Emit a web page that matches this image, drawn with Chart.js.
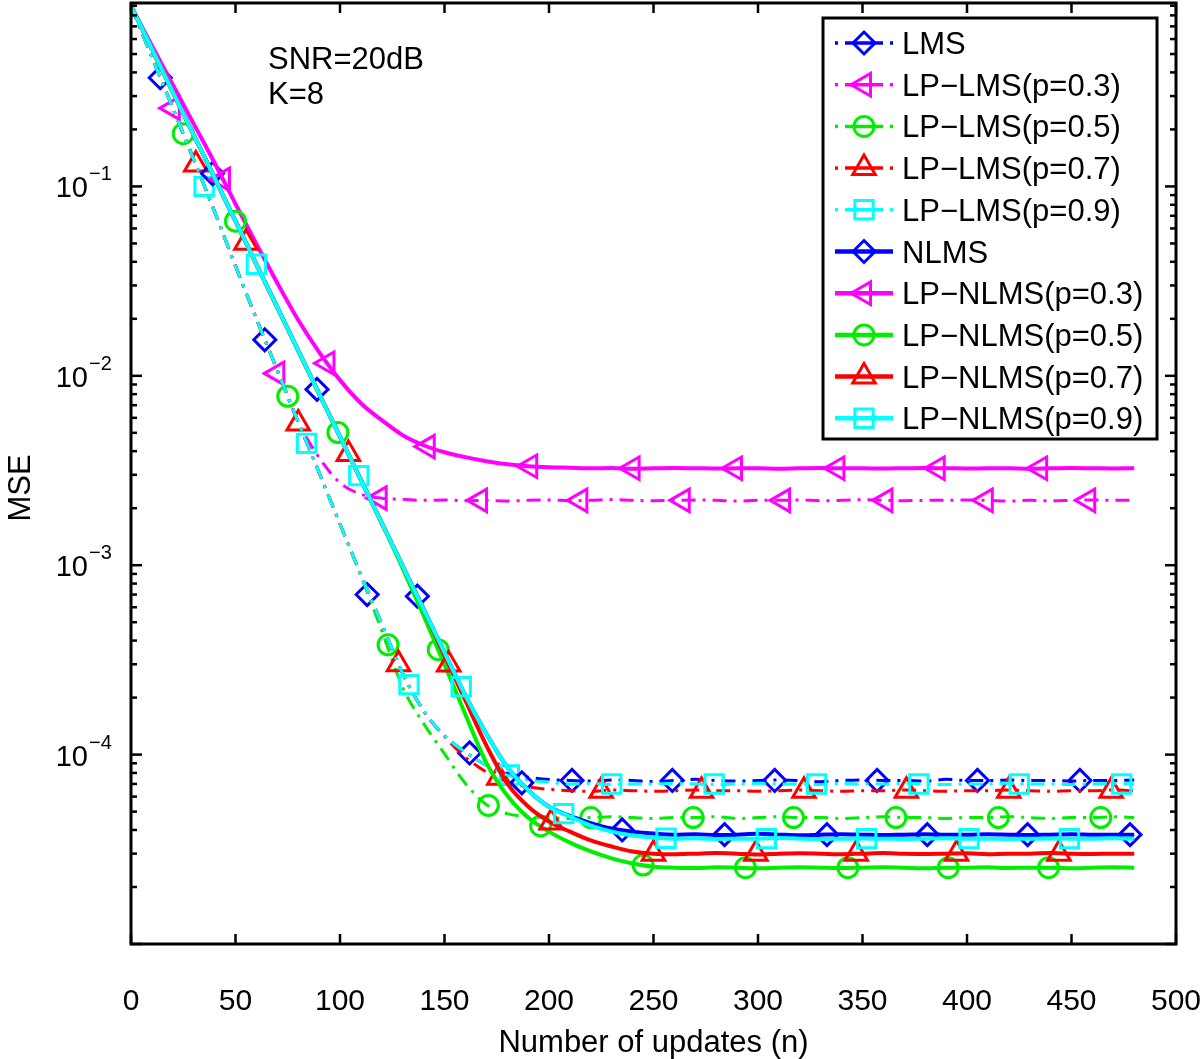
<!DOCTYPE html>
<html>
<head>
<meta charset="utf-8">
<script src="https://cdn.jsdelivr.net/npm/chart.js@4.4.0/dist/chart.umd.min.js"></script>
<style>
html,body{margin:0;padding:0;background:#fff;}
#wrap{width:1200px;height:1059px;}
</style>
</head>
<body>
<div id="wrap"><canvas id="c" width="1200" height="1059"></canvas></div>
<script>
// ---------------- data ----------------
const updates = [0,10,20,30,40,50,60,70,80,90,100,110,120,130,140,150,160,170,180,190,200,210,220,230,240,250,260,270,280,290,300,310,320,330,340,350,360,370,380,390,400,410,420,430,440,450,460,470,480];
const xTickValues = [0,50,100,150,200,250,300,350,400,450,500];
const yTickExponents = [-1,-2,-3,-4];

const seriesNames = ['LMS','LP\u2212LMS(p=0.3)','LP\u2212LMS(p=0.5)','LP\u2212LMS(p=0.7)','LP\u2212LMS(p=0.9)',
  'NLMS','LP\u2212NLMS(p=0.3)','LP\u2212NLMS(p=0.5)','LP\u2212NLMS(p=0.7)','LP\u2212NLMS(p=0.9)'];

const lmsMSE = [0.90,0.482,0.259,0.139,0.0735,0.038,0.020,0.0107,0.0057,0.00308,0.00165,8.9e-4,4.9e-4,2.68e-4,1.71e-4,1.26e-4,1.03e-4,8.8e-5,7.95e-5,7.6e-5,7.4e-5,
  7.3e-5,7.25e-5,7.35e-5,7.3e-5,7.2e-5,7.3e-5,7.4e-5,7.3e-5,7.25e-5,7.3e-5,
  7.35e-5,7.3e-5,7.2e-5,7.3e-5,7.35e-5,7.3e-5,7.3e-5,7.25e-5,7.4e-5,7.3e-5,
  7.3e-5,7.35e-5,7.3e-5,7.3e-5,7.25e-5,7.3e-5,7.3e-5,7.35e-5];
const lp3LmsMSE = [0.90,0.482,0.259,0.139,0.0735,0.038,0.020,0.0107,0.0057,0.0037,0.00272,0.00237,0.00226,0.00223,0.0022,
  2.21e-3,2.19e-3,2.2e-3,2.18e-3,2.2e-3,2.21e-3,2.19e-3,2.2e-3,2.22e-3,2.2e-3,
  2.19e-3,2.2e-3,2.21e-3,2.2e-3,2.18e-3,2.2e-3,2.2e-3,2.21e-3,2.19e-3,2.2e-3,
  2.22e-3,2.2e-3,2.19e-3,2.2e-3,2.2e-3,2.21e-3,2.2e-3,2.18e-3,2.2e-3,2.19e-3,
  2.2e-3,2.21e-3,2.2e-3,2.2e-3];
const lp5LmsMSE = [0.90,0.482,0.259,0.139,0.0735,0.038,0.020,0.0107,0.0057,0.00308,0.00165,8.8e-4,
  4.5e-4,2.26e-4,1.46e-4,1.01e-4,7.04e-5,5.45e-5,4.88e-5,4.71e-5,4.65e-5,
  4.6e-5,4.65e-5,4.7e-5,4.65e-5,4.6e-5,4.65e-5,4.65e-5,4.7e-5,4.6e-5,4.65e-5,
  4.7e-5,4.65e-5,4.65e-5,4.6e-5,4.65e-5,4.7e-5,4.65e-5,4.65e-5,4.6e-5,4.65e-5,
  4.65e-5,4.7e-5,4.65e-5,4.6e-5,4.65e-5,4.65e-5,4.7e-5,4.65e-5];
const lp7LmsMSE = [0.90,0.482,0.259,0.139,0.0735,0.038,0.020,0.0107,0.0057,0.00308,0.00165,8.9e-4,4.9e-4,
  2.68e-4,1.7e-4,1.25e-4,9.7e-5,8.1e-5,7.2e-5,6.75e-5,6.55e-5,
  6.45e-5,6.4e-5,6.5e-5,6.45e-5,6.4e-5,6.45e-5,6.5e-5,6.45e-5,6.45e-5,6.4e-5,
  6.45e-5,6.5e-5,6.45e-5,6.4e-5,6.45e-5,6.45e-5,6.5e-5,6.45e-5,6.4e-5,6.45e-5,
  6.45e-5,6.5e-5,6.45e-5,6.4e-5,6.45e-5,6.45e-5,6.5e-5,6.45e-5];
const lp9LmsMSE = [0.90,0.482,0.259,0.139,0.0735,0.038,0.020,0.0107,0.0057,0.00308,0.00165,8.9e-4,4.9e-4,2.68e-4,1.71e-4,1.26e-4,1.03e-4,8.8e-5,
  7.8e-5,7.35e-5,7.15e-5,
  7.0e-5,7.05e-5,6.95e-5,7.0e-5,7.0e-5,7.05e-5,7.0e-5,6.95e-5,7.0e-5,7.05e-5,
  7.0e-5,7.0e-5,6.95e-5,7.05e-5,7.0e-5,7.0e-5,7.05e-5,7.0e-5,6.95e-5,7.0e-5,
  7.0e-5,7.05e-5,7.0e-5,7.0e-5,6.95e-5,7.0e-5,7.05e-5,7.0e-5];
const nlmsMSE = [0.90,0.532,0.315,0.187,0.111,0.0655,0.0388,0.023,0.0136,0.00805,0.00477,0.00282,0.00167,9.9e-4,5.86e-4,3.47e-4,2.05e-4,1.29e-4,8.6e-5,6.5e-5,5.3e-5,4.75e-5,4.35e-5,4.07e-5,3.92e-5,3.83e-5,
  3.78e-5,3.8e-5,3.76e-5,3.78e-5,3.82e-5,3.78e-5,3.75e-5,3.78e-5,3.8e-5,3.78e-5,
  3.76e-5,3.78e-5,3.8e-5,3.78e-5,3.77e-5,3.8e-5,3.78e-5,3.76e-5,3.78e-5,3.8e-5,
  3.78e-5,3.77e-5,3.78e-5];
const lp3NlmsMSE = [0.90,0.553,0.344,0.214,0.133,0.0808,0.0497,0.0309,0.0197,0.01334,0.00949,0.00717,0.00583,0.00486,0.0043,0.00395,0.00372,0.00354,0.00341,0.00333,0.00329,
  3.27e-3,3.25e-3,3.26e-3,3.23e-3,3.25e-3,3.26e-3,3.25e-3,3.24e-3,3.25e-3,3.25e-3,
  3.23e-3,3.25e-3,3.26e-3,3.25e-3,3.25e-3,3.24e-3,3.25e-3,3.26e-3,3.25e-3,3.24e-3,
  3.25e-3,3.25e-3,3.23e-3,3.25e-3,3.26e-3,3.25e-3,3.24e-3,3.25e-3];
const lp5NlmsMSE = [0.90,0.532,0.315,0.187,0.111,0.0655,0.0388,0.023,0.0136,0.00805,0.00477,0.00282,0.00167,
  9.63e-4,5.43e-4,2.99e-4,1.63e-4,9.08e-5,6.08e-5,4.65e-5,3.92e-5,3.43e-5,3.08e-5,2.83e-5,2.66e-5,2.56e-5,
  2.53e-5,2.52e-5,2.54e-5,2.53e-5,2.51e-5,2.53e-5,2.54e-5,2.53e-5,2.52e-5,2.53e-5,
  2.54e-5,2.53e-5,2.51e-5,2.53e-5,2.53e-5,2.54e-5,2.52e-5,2.53e-5,2.53e-5,2.51e-5,
  2.53e-5,2.54e-5,2.53e-5];
const lp7NlmsMSE = [0.90,0.532,0.315,0.187,0.111,0.0655,0.0388,0.023,0.0136,0.00805,0.00477,0.00282,0.00167,9.9e-4,5.86e-4,
  3.34e-4,1.93e-4,1.12e-4,7.04e-5,5.32e-5,4.43e-5,3.92e-5,3.52e-5,3.27e-5,3.08e-5,3.0e-5,
  2.98e-5,3.0e-5,3.02e-5,3.0e-5,2.97e-5,3.0e-5,3.01e-5,3.0e-5,2.98e-5,3.0e-5,
  3.02e-5,3.0e-5,2.99e-5,3.0e-5,3.01e-5,2.98e-5,3.0e-5,3.0e-5,3.02e-5,3.0e-5,
  2.99e-5,3.0e-5,3.0e-5];
const lp9NlmsMSE = [0.90,0.532,0.315,0.187,0.111,0.0655,0.0388,0.023,0.0136,0.00805,0.00477,0.00282,0.00167,9.9e-4,5.86e-4,3.47e-4,2.05e-4,1.29e-4,8.6e-5,6.5e-5,
  5.3e-5,4.71e-5,4.22e-5,3.92e-5,3.74e-5,3.65e-5,
  3.6e-5,3.62e-5,3.58e-5,3.6e-5,3.6e-5,3.63e-5,3.6e-5,3.58e-5,3.6e-5,3.61e-5,
  3.6e-5,3.58e-5,3.6e-5,3.62e-5,3.6e-5,3.6e-5,3.58e-5,3.6e-5,3.61e-5,3.6e-5,
  3.6e-5,3.62e-5,3.6e-5];

// marker positions (update index) and values
const lmsMarkN = [14,64,113,162,211,259,308,357,405,454];
const lmsMarkV = [0.375,0.0155,7.0e-4,1.02e-4,7.3e-5,7.3e-5,7.3e-5,7.3e-5,7.3e-5,7.3e-5];
const lp3LmsMarkN = [20,70,119,167,215,264,312,361,409,458];
const lp3LmsMarkV = [0.259,0.0103,2.26e-3,2.2e-3,2.2e-3,2.2e-3,2.2e-3,2.2e-3,2.2e-3,2.2e-3];
const lp5LmsMarkN = [25,75,123,171,220,269,317,366,415,464];
const lp5LmsMarkV = [0.19,0.0078,3.8e-4,5.39e-5,4.65e-5,4.65e-5,4.65e-5,4.65e-5,4.65e-5,4.65e-5];
const lp7LmsMarkN = [31,80,128,176,225,273,322,371,420,469];
const lp7LmsMarkV = [0.1306,0.0056,3.0e-4,7.55e-5,6.45e-5,6.45e-5,6.45e-5,6.45e-5,6.45e-5,6.45e-5];
const lp9LmsMarkN = [35,84,133,181,230,279,328,377,425,474];
const lp9LmsMarkV = [0.1,0.0044,2.34e-4,7.8e-5,7.0e-5,7.0e-5,7.0e-5,7.0e-5,7.0e-5,7.0e-5];
const nlmsMarkN = [39,89,137,187,235,284,333,381,429,478];
const nlmsMarkV = [0.117,0.00848,6.86e-4,7.1e-5,4.0e-5,3.78e-5,3.78e-5,3.78e-5,3.78e-5,3.78e-5];
const lp3NlmsMarkN = [44,94,142,191,240,289,338,386,435];
const lp3NlmsMarkV = [0.109,0.01165,4.23e-3,3.33e-3,3.25e-3,3.25e-3,3.25e-3,3.25e-3,3.25e-3];
const lp5NlmsMarkN = [50,99,147,196,245,294,343,391,439];
const lp5NlmsMarkV = [0.0655,0.00502,3.58e-4,4.2e-5,2.61e-5,2.53e-5,2.53e-5,2.53e-5,2.53e-5];
const lp7NlmsMarkN = [55,104,152,201,250,299,347,395,444];
const lp7NlmsMarkV = [0.0504,0.00386,2.99e-4,4.38e-5,3.0e-5,3.0e-5,3.0e-5,3.0e-5,3.0e-5];
const lp9NlmsMarkN = [60,109,158,207,256,304,352,401,449];
const lp9NlmsMarkV = [0.0388,0.00297,2.28e-4,4.88e-5,3.62e-5,3.6e-5,3.6e-5,3.6e-5,3.6e-5];

const annotationLines = ['SNR=20dB','K=8'];
const xTitle = 'Number of updates (n)';
const yTitle = 'MSE';

// ---------------- styles ----------------
const FONT = "'Liberation Sans', Arial, Helvetica, sans-serif";
const lineSeries = [lmsMSE,lp3LmsMSE,lp5LmsMSE,lp7LmsMSE,lp9LmsMSE,nlmsMSE,lp3NlmsMSE,lp5NlmsMSE,lp7NlmsMSE,lp9NlmsMSE];
const markSeriesN = [lmsMarkN,lp3LmsMarkN,lp5LmsMarkN,lp7LmsMarkN,lp9LmsMarkN,nlmsMarkN,lp3NlmsMarkN,lp5NlmsMarkN,lp7NlmsMarkN,lp9NlmsMarkN];
const markSeriesV = [lmsMarkV,lp3LmsMarkV,lp5LmsMarkV,lp7LmsMarkV,lp9LmsMarkV,nlmsMarkV,lp3NlmsMarkV,lp5NlmsMarkV,lp7NlmsMarkV,lp9NlmsMarkV];
const palette = ['#0000ff','#ff00ff','#00ee00','#ff0000','#00ffff'];
const markerShapes = [
  {shape:'rectRot', rot:0, r:11},
  {shape:'triangle', rot:-90, r:13},
  {shape:'circle', rot:0, r:10},
  {shape:'triangle', rot:0, r:13},
  {shape:'rect', rot:0, r:13}
];
const DASH = [14,7,3,7];

const datasets = [];
for (let i = 0; i < 10; i++) {
  const fam = i % 5;
  const dashed = i < 5;
  const color = palette[fam];
  const m = markerShapes[fam];
  datasets.push({
    type:'line', label: seriesNames[i],
    data: updates.map((n,k)=>({x:n, y:lineSeries[i][k]})),
    borderColor: color, borderWidth: dashed ? 3 : 4,
    borderDash: dashed ? DASH : [],
    pointRadius: 0, fill:false, cubicInterpolationMode:'monotone',
    order: 1000 - 2*i,
    _dashed: dashed, _marker: m
  });
  datasets.push({
    type:'line', label: seriesNames[i] + ' markers',
    data: markSeriesN[i].map((n,k)=>({x:n, y:markSeriesV[i][k]})),
    showLine:false, borderColor: color,
    pointStyle: m.shape, pointRotation: m.rot, pointRadius: m.r,
    pointBorderColor: color, pointBackgroundColor:'rgba(0,0,0,0)', pointBorderWidth: 3,
    order: 1000 - 2*i - 1
  });
}

function drawMarker(ctx, shape, r, rotDeg, x, y) {
  ctx.beginPath();
  const rad = rotDeg * Math.PI / 180;
  if (shape === 'circle') {
    ctx.arc(x, y, r, 0, 2*Math.PI);
  } else if (shape === 'rect') {
    const s = r * Math.SQRT1_2;
    ctx.rect(x-s, y-s, 2*s, 2*s);
  } else if (shape === 'rectRot') {
    ctx.moveTo(x-r, y); ctx.lineTo(x, y-r); ctx.lineTo(x+r, y); ctx.lineTo(x, y+r); ctx.closePath();
  } else if (shape === 'triangle') {
    let a = rad;
    for (let k = 0; k < 3; k++) {
      const px = x + Math.sin(a)*r, py = y - Math.cos(a)*r;
      if (k) ctx.lineTo(px, py); else ctx.moveTo(px, py);
      a += 2*Math.PI/3;
    }
    ctx.closePath();
  }
  ctx.stroke();
}

const decorPlugin = {
  id:'decor',
  afterDraw(chart) {
    const ctx = chart.ctx, a = chart.chartArea;
    const xs = chart.scales.x, ys = chart.scales.y;
    ctx.save();
    ctx.strokeStyle = '#000'; ctx.fillStyle = '#000';
    ctx.lineWidth = 2.5;
    const seg = (x1,y1,x2,y2)=>{ctx.beginPath();ctx.moveTo(x1,y1);ctx.lineTo(x2,y2);ctx.stroke();};
    // x ticks (inside) + labels
    ctx.font = '30px ' + FONT;
    ctx.textAlign = 'center'; ctx.textBaseline = 'alphabetic';
    xTickValues.forEach(v=>{
      const px = xs.getPixelForValue(v);
      seg(px, a.bottom, px, a.bottom-10);
      seg(px, a.top, px, a.top+10);
      ctx.fillText(String(v), px, 1010);
    });
    // y ticks (inside), major + minor
    for (let d = -5; d <= -1; d++) {
      for (let k = 1; k <= 9; k++) {
        const v = k * Math.pow(10, d);
        if (v > ys.max || v < ys.min) continue;
        const py = ys.getPixelForValue(v);
        const L = k === 1 ? 11 : 6;
        seg(a.left, py, a.left+L, py);
        seg(a.right, py, a.right-L, py);
      }
    }
    // frame
    ctx.lineWidth = 3;
    ctx.strokeRect(a.left, a.top, a.right-a.left, a.bottom-a.top);

    // y tick labels 10^-k
    yTickExponents.forEach(e=>{
      const py = ys.getPixelForValue(Math.pow(10, e));
      ctx.font = '29px ' + FONT;
      ctx.textAlign = 'right'; ctx.textBaseline = 'alphabetic';
      ctx.fillText('10', 88, py + 11);
      ctx.font = '20px ' + FONT;
      ctx.textAlign = 'left';
      ctx.fillText('\u2212' + String(-e), 89, py - 6);
    });

    // annotation
    ctx.font = '31px ' + FONT;
    ctx.textAlign = 'left'; ctx.textBaseline = 'alphabetic';
    ctx.fillText(annotationLines[0], 268, 69);
    ctx.fillText(annotationLines[1], 268, 104);

    // axis titles
    ctx.textAlign = 'center';
    ctx.fillText(xTitle, (a.left + a.right)/2, 1052);
    ctx.save();
    ctx.translate(30, 488);
    ctx.rotate(-Math.PI/2);
    ctx.fillText(yTitle, 0, 0);
    ctx.restore();

    // legend
    const L = {x0:823, y0:18, x1:1157, y1:439, rowY0:43, dy:41.7};
    ctx.fillStyle = '#fff';
    ctx.fillRect(L.x0, L.y0, L.x1-L.x0, L.y1-L.y0);
    ctx.lineWidth = 3; ctx.strokeStyle = '#000';
    ctx.strokeRect(L.x0, L.y0, L.x1-L.x0, L.y1-L.y0);
    const lines = chart.data.datasets.filter(ds=>ds._marker);
    lines.forEach((ds, i)=>{
      const y = L.rowY0 + i*L.dy;
      ctx.strokeStyle = ds.borderColor;
      ctx.lineWidth = ds._dashed ? 3.5 : 4.5;
      ctx.setLineDash([]);
      if (ds._dashed) {
        seg(835, y, 838, y);
        seg(845, y, 883, y);
        seg(890, y, 893, y);
      } else {
        seg(835, y, 893, y);
      }
      ctx.lineWidth = 3;
      drawMarker(ctx, ds._marker.shape, ds._marker.r, ds._marker.rot, 864, y);
      ctx.fillStyle = '#000';
      ctx.font = '31px ' + FONT;
      ctx.textAlign = 'left'; ctx.textBaseline = 'alphabetic';
      ctx.fillText(ds.label, 902, y + 11);
    });
    ctx.restore();
  }
};

Chart.defaults.font.family = FONT;
new Chart(document.getElementById('c'), {
  type:'line',
  data:{datasets},
  options:{
    responsive:false, animation:false, devicePixelRatio:1, events:[],
    layout:{autoPadding:false, padding:{left:0, right:24, top:3, bottom:0}},
    plugins:{legend:{display:false}, tooltip:{enabled:false}},
    scales:{
      x:{type:'linear', min:0, max:500,
         grid:{display:false, drawTicks:false}, border:{display:false},
         ticks:{display:false, stepSize:50, padding:0},
         afterFit(s){ s.height = 115; }},
      y:{type:'logarithmic', min:1e-5, max:0.93,
         grid:{display:false, drawTicks:false}, border:{display:false},
         ticks:{display:false, padding:0},
         afterFit(s){ s.width = 131; }}
    }
  },
  plugins:[decorPlugin]
});
</script>
</body>
</html>
